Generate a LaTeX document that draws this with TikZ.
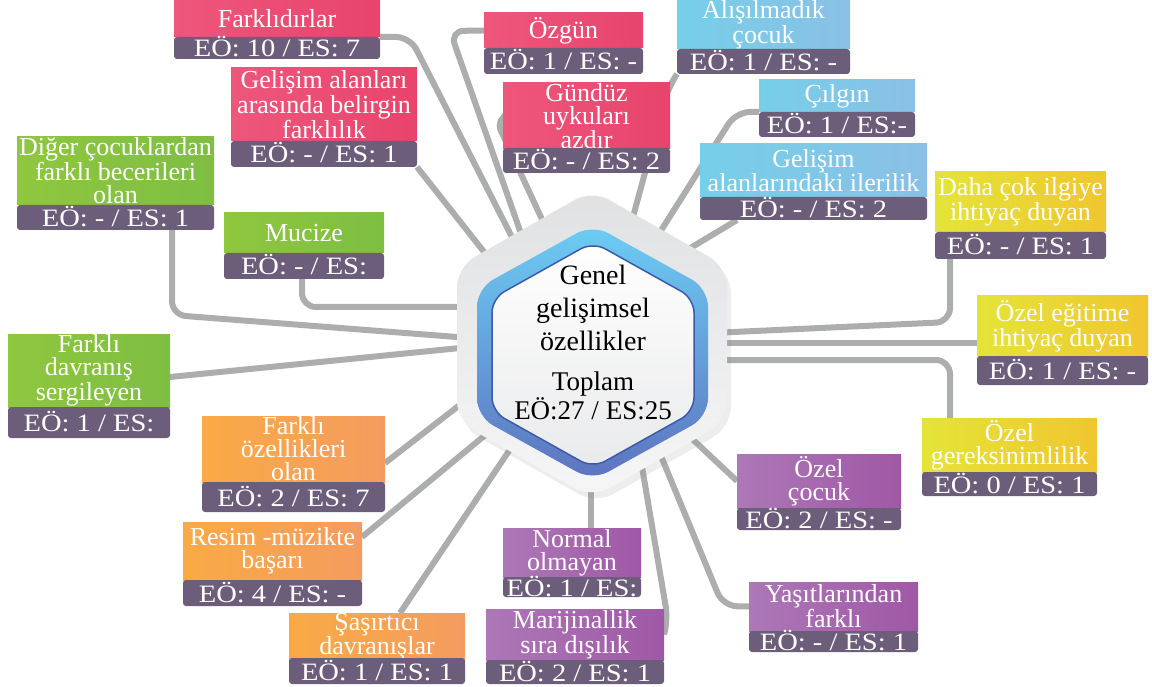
\documentclass[tikz,border=0pt]{standalone}
\usepackage{fontspec}
\setmainfont{Liberation Serif}
\newfontfamily\footfont[FakeStretch=1.14]{Liberation Serif}
\usetikzlibrary{shadows}

\definecolor{footc}{RGB}{108,93,122}
\definecolor{linkc}{RGB}{172,173,173}
\definecolor{pinkL}{RGB}{238,86,124}
\definecolor{pinkR}{RGB}{232,68,108}
\definecolor{greenL}{RGB}{143,199,63}
\definecolor{greenR}{RGB}{126,190,66}
\definecolor{orangeL}{RGB}{249,170,68}
\definecolor{orangeR}{RGB}{244,156,96}
\definecolor{blueL}{RGB}{118,207,233}
\definecolor{blueR}{RGB}{138,192,229}
\definecolor{yellowL}{RGB}{228,228,56}
\definecolor{yellowR}{RGB}{240,198,48}
\definecolor{violetL}{RGB}{172,120,182}
\definecolor{violetR}{RGB}{160,88,166}
\definecolor{hubA}{RGB}{224,225,227}
\definecolor{hubB}{RGB}{246,246,247}
\definecolor{ringA}{RGB}{108,205,244}
\definecolor{ringB}{RGB}{93,115,190}
\definecolor{ringline}{RGB}{60,90,170}

\pgfdeclarelayer{lines}
\pgfdeclarelayer{hub}
\pgfsetlayers{lines,hub,main}

\tikzset{
  link/.style={line width=6pt, draw=linkc, rounded corners=14pt},
  head/.style={anchor=north west, inner sep=0pt, outer sep=0pt, text=white,
    align=center, font=\fontsize{26}{23}\selectfont},
  foot/.style={anchor=north west, inner sep=0pt, outer sep=0pt, fill=footc,
    rounded corners=3pt, text=white, text height=18pt, text depth=0pt,
    font=\footfont\fontsize{25}{25}\selectfont},
  pinkbox/.style={left color=pinkL, right color=pinkR},
  greenbox/.style={left color=greenL, right color=greenR},
  orangebox/.style={left color=orangeL, right color=orangeR},
  bluebox/.style={left color=blueL, right color=blueR},
  yellowbox/.style={left color=yellowL, right color=yellowR},
  violetbox/.style={left color=violetL, right color=violetR}
}

% name, x1, y1, y of split, x2, y2, colour, header, footer
\newcommand{\catbox}[9]{%
  \node[head, #7, minimum width={#5-#2}, minimum height={#4-#3}] (#1) at (#2,#3) {#8};
  \node[foot, minimum width={#5-#2}, minimum height={#6-#4}] (#1f) at (#2,#4) {#9};
}

\begin{document}
\begin{tikzpicture}[x=1pt,y=-1pt]
	\useasboundingbox (0,0) rectangle (1152,687);

	% boxes
	\catbox{fark}{174}{0}{37}{380}{59}{pinkbox}{Farklıdırlar}{EÖ: 10 / ES: 7}
	\catbox{gelb}{231}{68}{141}{417}{167}{pinkbox}{Gelişim alanları\\arasında belirgin\\farklılık}{EÖ: - / ES: 1}
	\catbox{ozgun}{484}{13}{48}{643}{74}{pinkbox}{Özgün}{EÖ: 1 / ES: -}
	\catbox{gunduz}{503}{83}{148}{670}{173}{pinkbox}{Gündüz\\uykuları\\azdır}{EÖ: - / ES: 2}
	\catbox{alis}{677}{0}{49}{850}{74}{bluebox}{Alışılmadık\\çocuk}{EÖ: 1 / ES: -}
	\catbox{cilgin}{759}{80}{112}{915}{137}{bluebox}{Çılgın}{EÖ: 1 / ES:-}
	\catbox{iler}{700}{144}{197}{927}{220}{bluebox}{Gelişim\\alanlarındaki ilerilik}{EÖ: - / ES: 2}
	\catbox{ilgi}{935}{172}{232}{1106}{259}{yellowbox}{Daha çok ilgiye\\ihtiyaç duyan}{EÖ: - / ES: 1}
	\catbox{egit}{977}{296}{356}{1148}{385}{yellowbox}{Özel eğitime\\ihtiyaç duyan}{EÖ: 1 / ES: -}
	\catbox{gerek}{922}{418}{472}{1097}{496}{yellowbox}{Özel\\gereksinimlilik}{EÖ: 0 / ES: 1}
	\catbox{ozcoc}{737}{454}{508}{901}{530}{violetbox}{Özel\\çocuk}{EÖ: 2 / ES: -}
	\catbox{yasit}{749}{582}{631}{918}{652}{violetbox}{Yaşıtlarından\\farklı}{EÖ: - / ES: 1}
	\catbox{normal}{503}{528}{577}{641}{597}{violetbox}{Normal\\olmayan}{EÖ: 1 / ES:}
	\catbox{marj}{486}{609}{660}{664}{684}{violetbox}{Marijinallik\\sıra dışılık}{EÖ: 2 / ES: 1}
	\catbox{sasir}{289}{613}{658}{465}{684}{orangebox}{Şaşırtıcı\\davranışlar}{EÖ: 1 / ES: 1}
	\catbox{resim}{183}{522}{580}{362}{606}{orangebox}{Resim -müzikte\\başarı}{EÖ: 4 / ES: -}
	\catbox{ozell}{202}{416}{482}{385}{512}{orangebox}{Farklı\\özellikleri\\olan}{EÖ: 2 / ES: 7}
	\catbox{davr}{8}{334}{407}{170}{438}{greenbox}{Farklı\\davranış\\sergileyen}{EÖ: 1 / ES:}
	\catbox{mucize}{224}{213}{253}{384}{279}{greenbox}{Mucize}{EÖ: - / ES:}
	\catbox{diger}{17}{137}{205}{214}{230}{greenbox}{Diğer çocuklardan\\farklı becerileri\\olan}{EÖ: - / ES: 1}

	% hexagon text
	\node[font=\fontsize{28}{33}\selectfont, align=center] (title) at (593,308) {Genel\\gelişimsel\\özellikler};
	\node[font=\fontsize{27}{23}\selectfont, align=center] (total) at (593,396) {Toplam\\EÖ:27 / ES:25};

	% connector ends under the hexagon
	\coordinate (e-fark) at (517,247);
	\coordinate (e-gelb) at (492,262);
	\coordinate (e-ozgun) at (525,245);
	\coordinate (e-gunduz) at (546,228);
	\coordinate (e-alis) at (630,228);
	\coordinate (e-cilgin) at (655,240);
	\coordinate (e-iler) at (682,253);
	\coordinate (e-ilgi) at (712,333);
	\coordinate (e-egit) at (712,343);
	\coordinate (e-gerek) at (712,360);
	\coordinate (e-ozcoc) at (688,435);
	\coordinate (e-yasit) at (656,444);
	\coordinate (e-normal) at (591,480);
	\coordinate (e-marj) at (640,455);
	\coordinate (e-sasir) at (515,442);
	\coordinate (e-resim) at (495,427);
	\coordinate (e-ozell) at (470,397);
	\coordinate (e-davr) at (470,347);
	\coordinate (e-diger) at (470,338);
	\coordinate (e-mucize) at (470,307);

	\begin{pgfonlayer}{lines}
	\draw[link] (fark.south east) -- (410,37) -- (e-fark);
	\draw[link] (gelbf.south east) -- (e-gelb);
	\draw[link] (ozgun.west) -- (450,31) -- (e-ozgun);
	\draw[link] (gunduz.west) -- (495,118) -- (e-gunduz);
	\draw[link] (alisf.south west) -- (668,88) -- (e-alis);
	\draw[link] (cilgin.south west) -- (736,112) -- (e-cilgin);
	\draw[link] (ilerf.south west) ++(37,0) -- (e-iler);
	\draw[link] (ilgif.south west) ++(15,0) -- (950,322) -- (e-ilgi);
	\draw[link] (egit.south west) ++(0,-13) -- (e-egit);
	\draw[link] (gerek.north west) ++(28,0) -- (950,360) -- (e-gerek);
	\draw[link] (ozcoc.west) -- (e-ozcoc);
	\draw[link] (yasit.west) -- (723,606) -- (e-yasit);
	\draw[link] (normal.north west) ++(88,0) -- (e-normal);
	\draw[link] (marj.east) -- (668,620) -- (e-marj);
	\draw[link] (sasir.north west) ++(111,0) -- (e-sasir);
	\draw[link] (resim.north east) ++(0,15) -- (e-resim);
	\draw[link] (ozell.south east) ++(0,-19) -- (e-ozell);
	\draw[link] (davr.south east) ++(0,-30) -- (e-davr);
	\draw[link] (digerf.south west) ++(155,0) -- (172,315) -- (e-diger);
	\draw[link] (mucizef.south west) ++(78,0) -- (302,307) -- (e-mucize);
	\end{pgfonlayer}

	\begin{pgfonlayer}{hub}
	\draw[draw=none, top color=hubA, bottom color=hubB, rounded corners=20pt,
		drop shadow={opacity=0.14, shadow xshift=4pt, shadow yshift=-6pt}]
		(592,190) -- (727,267) -- (727,421) -- (592,498) -- (457,421) -- (457,267) -- cycle;
	\draw[draw=none, top color=ringA, bottom color=ringB, rounded corners=18pt]
		(592.5,224.5) -- (708,288.5) -- (708,416.5) -- (592.5,480.5) -- (477,416.5) -- (477,288.5) -- cycle;
	\draw[draw=ringline, line width=1.5pt, top color=white, bottom color=hubA!70, rounded corners=14pt]
		(593,242) -- (694,298.5) -- (694,411.5) -- (593,468) -- (492,411.5) -- (492,298.5) -- cycle;
	\end{pgfonlayer}
\end{tikzpicture}
\end{document}
